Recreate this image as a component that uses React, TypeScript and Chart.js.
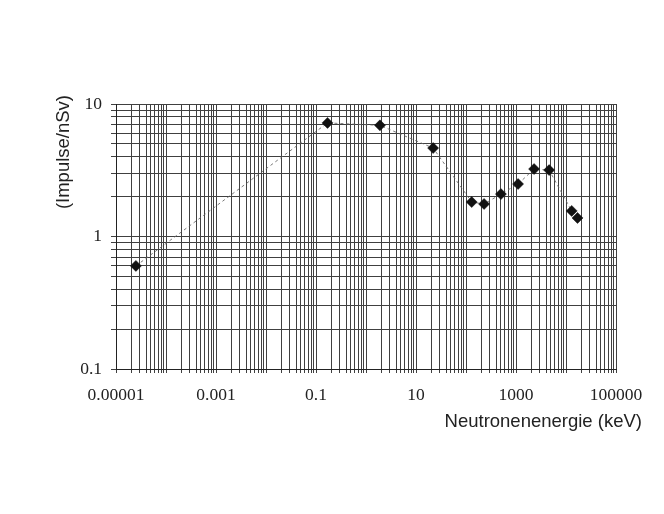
import React, { useEffect, useRef } from "react";
import { Chart, registerables } from "chart.js";

Chart.register(...registerables);

// Neutron energy (keV) and response (Impulse/nSv)
const energies = [2.5e-5, 0.17, 1.9, 22, 130, 230, 500, 1100, 2300, 4600, 13000, 17000];
const responses = [0.6, 7.2, 6.9, 4.65, 1.82, 1.76, 2.09, 2.49, 3.23, 3.17, 1.56, 1.38];

const xTickValues = [1e-5, 1e-3, 0.1, 10, 1000, 100000];
const xTickLabels = ["0.00001", "0.001", "0.1", "10", "1000", "100000"];
const yTickValues = [0.1, 1, 10];
const yTickLabels = ["0.1", "1", "10"];

const xTitle = "Neutronenenergie (keV)";
const yTitle = "(Impulse/nSv)";

const X_MIN = 1e-5, X_MAX = 1e5, Y_MIN = 0.1, Y_MAX = 10;

function logGrid(min: number, max: number) {
  const out: { value: number }[] = [];
  const e0 = Math.round(Math.log10(min));
  const e1 = Math.round(Math.log10(max));
  for (let e = e0; e < e1; e++) {
    for (let s = 1; s <= 9; s++) out.push({ value: s * Math.pow(10, e) });
  }
  out.push({ value: max });
  return out;
}

function labelFor(v: number, vals: number[], labels: string[]) {
  for (let i = 0; i < vals.length; i++) {
    if (Math.abs(Math.log10(v) - Math.log10(vals[i])) < 1e-6) return labels[i];
  }
  return "";
}

const GRID = "#404040";
const TICK_FONT = { family: "'Liberation Serif', 'DejaVu Serif', serif", size: 17.5 };
const TITLE_FONT = "18.5px 'Liberation Sans', Arial, sans-serif";

export default function App() {
  const ref = useRef<HTMLCanvasElement | null>(null);

  useEffect(() => {
    if (!ref.current) return;
    const titlesPlugin = {
      id: "titlesPlugin",
      afterDraw(chart: any) {
        const ctx = chart.ctx;
        ctx.save();
        ctx.font = TITLE_FONT;
        ctx.fillStyle = "#222";
        ctx.textBaseline = "middle";
        ctx.textAlign = "right";
        ctx.fillText(xTitle, 642, 422);
        ctx.translate(64, 95);
        ctx.rotate(-Math.PI / 2);
        ctx.textAlign = "right";
        ctx.fillText(yTitle, 0, 0);
        ctx.restore();
      },
    };
    const chart = new Chart(ref.current, {
      type: "scatter",
      data: {
        datasets: [
          {
            data: energies.map((x, i) => ({ x, y: responses[i] })),
            showLine: true,
            borderColor: "rgba(100,100,100,0.85)",
            borderWidth: 1,
            borderDash: [3, 3],
            pointStyle: "rectRot",
            pointRadius: 5.5,
            pointBackgroundColor: "#111",
            pointBorderColor: "#111",
            pointBorderWidth: 0.5,
          },
        ],
      },
      options: {
        animation: false,
        responsive: false,
        layout: { padding: { left: 0, right: 48, top: 104, bottom: 0 } },
        plugins: { legend: { display: false }, tooltip: { enabled: false } },
        scales: {
          x: {
            type: "logarithmic",
            min: X_MIN,
            max: X_MAX,
            afterBuildTicks: (s: any) => { s.ticks = logGrid(X_MIN, X_MAX); },
            afterFit: (s: any) => { s.height = 145; },
            grid: { color: GRID, lineWidth: 1, tickLength: 4, drawTicks: true },
            border: { color: "#222", width: 1 },
            ticks: {
              autoSkip: false,
              maxRotation: 0,
              padding: 12,
              color: "#222",
              font: TICK_FONT,
              callback: (v: any) => labelFor(Number(v), xTickValues, xTickLabels),
            },
          },
          y: {
            type: "logarithmic",
            min: Y_MIN,
            max: Y_MAX,
            afterBuildTicks: (s: any) => { s.ticks = logGrid(Y_MIN, Y_MAX); },
            afterFit: (s: any) => { s.width = 116; },
            grid: { color: GRID, lineWidth: 1, tickLength: 5, drawTicks: true },
            border: { color: "#222", width: 1 },
            ticks: {
              autoSkip: false,
              padding: 9,
              color: "#222",
              font: TICK_FONT,
              callback: (v: any) => labelFor(Number(v), yTickValues, yTickLabels),
            },
          },
        },
      },
      plugins: [titlesPlugin],
    } as any);
    return () => chart.destroy();
  }, []);

  return (
    <div style={{ position: "absolute", left: 0, top: 0, width: 664, height: 514, background: "#fff" }}>
      <canvas ref={ref} width={664} height={514} />
    </div>
  );
}
